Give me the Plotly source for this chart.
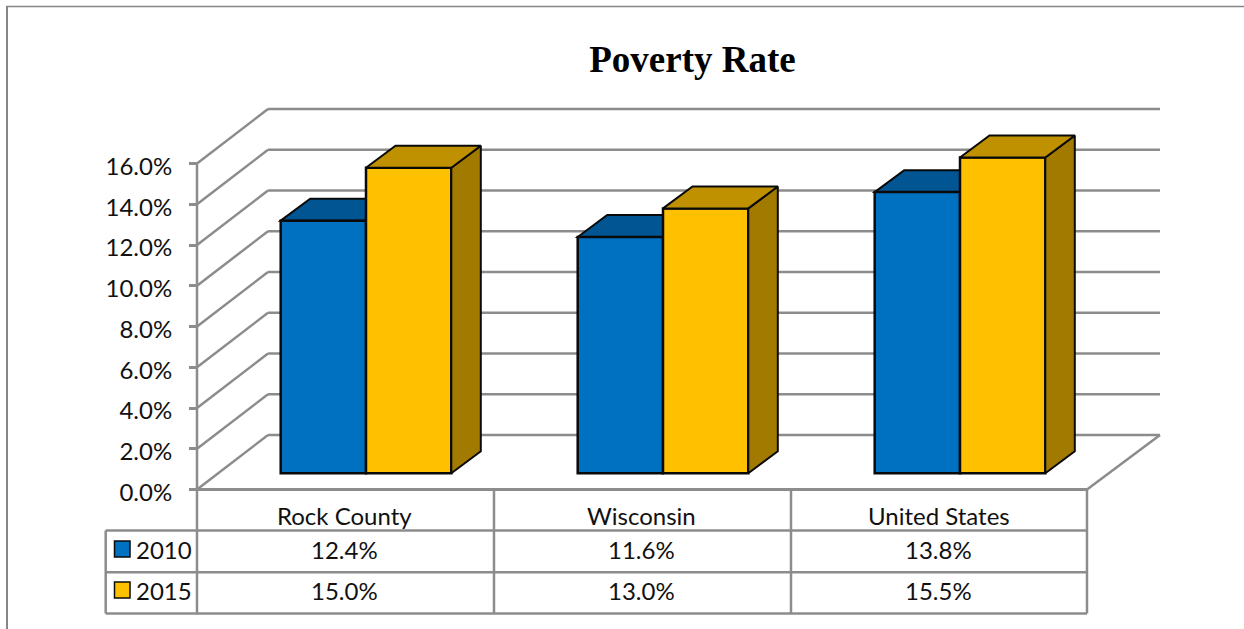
import plotly.graph_objects as go

# ---- data ----
categories = ["Rock County", "Wisconsin", "United States"]
series_names = ["2010", "2015"]
values_2010 = [12.4, 11.6, 13.8]
values_2015 = [15.0, 13.0, 15.5]
y_ticks = [0, 2, 4, 6, 8, 10, 12, 14, 16]

# ---- scale of the oblique drawing ----
W, H = 1244, 629
PX_PER_CAT = 297.0
PX_PER_PCT = 20.375
X0_PX, Y0_PX = 366.0, 489.5          # pixel of category 0 / of 0 %
def dx(p): return p / PX_PER_CAT
def dy(p): return p / PX_PER_PCT

BAR_W = dx(85.3)
BAR_BASE = dy(16.2)                  # bars stand in front of the back wall
BAR_DX, BAR_DY = dx(29.5), dy(22)
WALL_DX, WALL_DY = dx(71), dy(54.5)
AX_LEFT = dx(197 - X0_PX)
AX_RIGHT = AX_LEFT + dx(890)
TABLE_LEFT = dx(105.7 - X0_PX)
ROW1, ROW2, ROW3 = -dy(530.5 - Y0_PX), -dy(572.3 - Y0_PX), -dy(613.5 - Y0_PX)
GRID = "#8c8c8c"
INK = "#0a0a0a"
BLUE, BLUE_D = "#0070C0", "#005592"
GOLD, GOLD_T, GOLD_S = "#FFC000", "#BF9000", "#A37A00"
FONT = "Lato"
FS = 24

idx = list(range(len(categories)))
shapes, annos = [], []

def seg(x0, y0, x1, y1, w=2.5, color=GRID):
    shapes.append(dict(type="line", xref="x", yref="y", x0=x0, y0=y0, x1=x1, y1=y1,
                       layer="below", line=dict(color=color, width=w)))

# walls and gridlines
for t in y_ticks:
    back_x = AX_LEFT + WALL_DX
    seg(AX_LEFT, t, back_x, t + WALL_DY)
    seg(back_x, t + WALL_DY, AX_RIGHT + WALL_DX + dx(2), t + WALL_DY)
seg(AX_LEFT, 0, AX_LEFT, y_ticks[-1])
seg(AX_RIGHT, 0, AX_RIGHT + WALL_DX + dx(2), WALL_DY)

# data table grid
seg(AX_LEFT, 0, AX_RIGHT, 0, 3)
for r in (ROW1, ROW2, ROW3):
    seg(TABLE_LEFT, r, AX_RIGHT, r)
seg(TABLE_LEFT, ROW1, TABLE_LEFT, ROW3)
seg(AX_LEFT, 0, AX_LEFT, ROW3)
for i in range(1, 3):
    seg(AX_LEFT + i, 0, AX_LEFT + i, ROW3)
seg(AX_RIGHT, 0, AX_RIGHT, ROW3)

def poly_path(pts):
    return "M" + " L".join(f"{x},{y}" for x, y in pts) + " Z"

# top faces of the 2010 boxes sit behind the 2015 front faces
for i, v in zip(idx, values_2010):
    xl, xr, top = i - BAR_W, i, BAR_BASE + v
    shapes.append(dict(type="path", xref="x", yref="y", layer="below",
                       path=poly_path([(xl, top), (xl + BAR_DX, top + BAR_DY),
                                       (xr + BAR_DX, top + BAR_DY), (xr, top)]),
                       fillcolor=BLUE_D, line=dict(color=INK, width=2)))

fig = go.Figure()
line = dict(color=INK, width=2.5)
fig.add_trace(go.Bar(x=idx, y=values_2010, base=BAR_BASE, width=BAR_W, offset=-BAR_W,
                     name=series_names[0], marker=dict(color=BLUE, line=line)))
fig.add_trace(go.Bar(x=idx, y=values_2015, base=BAR_BASE, width=BAR_W, offset=0,
                     name=series_names[1], marker=dict(color=GOLD, line=line)))

# side and top faces of the 2015 boxes
for i, v in zip(idx, values_2015):
    xl, xr, top = i, i + BAR_W, BAR_BASE + v
    fig.add_trace(go.Scatter(
        x=[xr, xr + BAR_DX, xr + BAR_DX, xr, xr],
        y=[BAR_BASE, BAR_BASE + BAR_DY, top + BAR_DY, top, BAR_BASE],
        mode="lines", fill="toself", fillcolor=GOLD_S,
        line=dict(color=INK, width=2), showlegend=False, hoverinfo="skip"))
    fig.add_trace(go.Scatter(
        x=[xl, xl + BAR_DX, xr + BAR_DX, xr, xl],
        y=[top, top + BAR_DY, top + BAR_DY, top, top],
        mode="lines", fill="toself", fillcolor=GOLD_T,
        line=dict(color=INK, width=2), showlegend=False, hoverinfo="skip"))

# data table text
def label(x, y, text, anchor="center", size=FS):
    annos.append(dict(x=x, y=y, xref="x", yref="y", text=text, showarrow=False,
                      xanchor=anchor, yanchor="middle", borderpad=0,
                      font=dict(family=FONT, size=size, color="#111111")))

y_head = -dy(515.5 - Y0_PX)
y_r1 = -dy(549.5 - Y0_PX)
y_r2 = -dy(590.5 - Y0_PX)
for i, c, a, b in zip(idx, categories, values_2010, values_2015):
    cx = AX_LEFT + i + 0.5 - dx(1)
    label(cx, y_head, c)
    label(cx, y_r1, f"{a:.1f}%")
    label(cx, y_r2, f"{b:.1f}%")

key_x0, key_x1 = dx(114.5 - X0_PX), dx(130 - X0_PX)
for name, yc, col in zip(series_names, (y_r1, y_r2), (BLUE, GOLD)):
    shapes.append(dict(type="rect", xref="x", yref="y", layer="above",
                       x0=key_x0, x1=key_x1, y0=yc - dy(7.5), y1=yc + dy(8.5),
                       fillcolor=col, line=dict(color=INK, width=1.5)))
    label(dx(134.5 - X0_PX), yc, name, anchor="left")

# outer frame of the chart area
shapes.append(dict(type="line", xref="paper", yref="paper", x0=6 / W, x1=1, y0=1 - 6.5 / H, y1=1 - 6.5 / H,
                   line=dict(color="#868686", width=1.5)))
shapes.append(dict(type="line", xref="paper", yref="paper", x0=7 / W, x1=7 / W, y0=0, y1=1 - 6 / H,
                   line=dict(color="#868686", width=2)))

fig.update_layout(
    width=W, height=H, margin=dict(l=0, r=0, t=0, b=0),
    paper_bgcolor="white", plot_bgcolor="white", showlegend=False,
    barmode="overlay", shapes=shapes, annotations=annos,
    title=dict(text="<b>Poverty Rate</b>", x=692.5 / W, xanchor="center",
               y=1 - 59 / H, yanchor="middle",
               font=dict(family="Liberation Serif", size=37, color="#000000")),
    xaxis=dict(range=[-X0_PX / PX_PER_CAT, (W - X0_PX) / PX_PER_CAT], visible=False, domain=[0, 1]),
    yaxis=dict(range=[(Y0_PX - H) / PX_PER_PCT, Y0_PX / PX_PER_PCT], domain=[0, 1],
               anchor="free", position=197 / W, side="left",
               tickmode="array", tickvals=y_ticks, ticktext=[f"{t:.1f}%" for t in y_ticks],
               ticks="outside", ticklen=8, tickwidth=2.5, tickcolor=GRID,
               ticklabelstandoff=12, ticklabelshift=3, showgrid=False, zeroline=False, showline=False,
               tickfont=dict(family=FONT, size=FS, color="#111111")),
)
fig.write_html("out.html", config={"displayModeBar": False},
               post_script="document.body.style.margin='0';document.documentElement.style.overflow='hidden';")
